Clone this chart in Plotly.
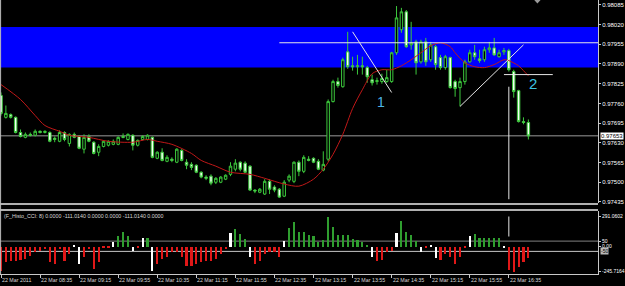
import plotly.graph_objects as go

# ---------------- data ----------------
bars = list(range(109))  # 5-minute bars, 22 Mar 2011 07:55 .. 16:55

open_pts = [97786, 97714, 97723, 97714, 97664, 97648, 97658, 97655, 97668, 97664,
            97664, 97645, 97635, 97664, 97628, 97658, 97651, 97609, 97651, 97632,
            97599, 97618, 97622, 97625, 97625, 97651, 97641, 97655, 97622, 97641,
            97641, 97648, 97579, 97599, 97569, 97576, 97566, 97605, 97566, 97559,
            97556, 97533, 97517, 97520, 97500, 97500, 97510, 97526, 97543, 97566,
            97563, 97553, 97474, 97467, 97461, 97503, 97484, 97477, 97454, 97507,
            97503, 97566, 97536, 97576, 97579, 97569, 97540, 97576, 97766, 97832,
            97815, 97930, 97884, 97881, 97884, 97878, 97838, 97832, 97832, 97832,
            97832, 97927, 98003, 98062, 97953, 97963, 97897, 97963, 97904, 97947,
            97911, 97878, 97911, 97832, 97812, 97832, 97897, 97927, 97907, 97904,
            97937, 97943, 97914, 97930, 97934, 97865, 97802, 97700, 97697]
high_pts = [97796, 97753, 97727, 97717, 97674, 97664, 97664, 97674, 97671, 97671,
            97668, 97651, 97671, 97668, 97661, 97664, 97655, 97658, 97658, 97635,
            97625, 97638, 97638, 97641, 97651, 97661, 97661, 97658, 97641, 97655,
            97658, 97651, 97602, 97612, 97589, 97582, 97612, 97609, 97576, 97566,
            97559, 97536, 97523, 97526, 97517, 97520, 97526, 97566, 97576, 97569,
            97569, 97556, 97477, 97481, 97510, 97510, 97490, 97481, 97507, 97526,
            97569, 97572, 97589, 97586, 97582, 97576, 97602, 97773, 97838, 97845,
            97911, 97996, 97914, 97920, 97914, 97884, 97855, 97845, 97858, 97871,
            97930, 98081, 98075, 98068, 98029, 97970, 97970, 97976, 97963, 97953,
            97920, 97920, 97914, 97838, 97845, 97904, 97937, 97953, 97937, 97947,
            97963, 97976, 97937, 97943, 97940, 97871, 97805, 97714, 97707]
low_pts = [97720, 97710, 97710, 97661, 97648, 97645, 97651, 97651, 97661, 97661,
           97632, 97632, 97632, 97635, 97618, 97645, 97609, 97595, 97632, 97592,
           97586, 97615, 97618, 97622, 97622, 97645, 97638, 97605, 97618, 97638,
           97638, 97579, 97576, 97569, 97566, 97566, 97563, 97569, 97543, 97540,
           97530, 97513, 97507, 97490, 97494, 97497, 97507, 97520, 97536, 97536,
           97530, 97471, 97464, 97464, 97458, 97461, 97467, 97448, 97451, 97500,
           97497, 97520, 97530, 97569, 97563, 97540, 97536, 97569, 97763, 97812,
           97812, 97874, 97868, 97855, 97855, 97828, 97819, 97822, 97825, 97828,
           97828, 97920, 97993, 97943, 97937, 97855, 97891, 97884, 97897, 97871,
           97871, 97871, 97809, 97782, 97750, 97822, 97894, 97904, 97894, 97897,
           97927, 97917, 97911, 97920, 97865, 97779, 97697, 97691, 97641]
close_pts = [97727, 97727, 97714, 97664, 97651, 97658, 97655, 97668, 97664, 97668,
             97635, 97641, 97664, 97641, 97658, 97648, 97612, 97648, 97635, 97595,
             97618, 97635, 97635, 97635, 97648, 97648, 97658, 97622, 97638, 97651,
             97655, 97582, 97599, 97572, 97582, 97572, 97609, 97572, 97556, 97549,
             97533, 97517, 97513, 97497, 97513, 97517, 97523, 97553, 97563, 97543,
             97533, 97474, 97471, 97477, 97503, 97477, 97474, 97451, 97500, 97520,
             97566, 97536, 97582, 97572, 97566, 97543, 97559, 97766, 97832, 97819,
             97904, 97881, 97881, 97884, 97881, 97848, 97828, 97835, 97842, 97845,
             97927, 98042, 98062, 97947, 97960, 97894, 97963, 97897, 97953, 97888,
             97878, 97914, 97812, 97809, 97832, 97897, 97927, 97914, 97901, 97937,
             97943, 97920, 97927, 97934, 97871, 97799, 97700, 97697, 97653]

# moving average (read at selected bars)
ma_bar = [0, 4, 7, 9, 12, 14, 18, 22, 27, 30, 32, 35, 39, 41, 44, 47, 51, 54, 58, 61,
          64, 66, 68, 70, 72, 74, 76, 78, 80, 82, 84, 86, 88, 90, 92, 93, 95, 97, 99,
          101, 103, 104, 106, 107, 108]
ma_pts = [97822, 97773, 97720, 97687, 97668, 97655, 97648, 97635, 97632, 97641, 97635,
          97625, 97595, 97572, 97553, 97533, 97526, 97513, 97494, 97487, 97510, 97543,
          97592, 97658, 97743, 97805, 97858, 97871, 97871, 97884, 97904, 97927, 97950,
          97960, 97947, 97927, 97894, 97881, 97878, 97888, 97904, 97901, 97884, 97868,
          97851]

# F_Histo_CCI(8) histogram
cci = [-234, -153, -137, -137, -127, -120, -94, -55, -39, -23,
       -153, -172, -23, -137, -72, 16, -169, -104, -23, -218,
       -146, -16, -10, 49, 107, 146, 101, -39, -5, 85,
       85, -234, -169, -120, -104, -55, -55, -104, -185, -185,
       -169, -153, -137, -137, -120, -72, -23, 133, 172, 124,
       75, -104, -169, -137, -72, -55, -49, -104, 52, 179,
       237, 140, 146, 114, 100, 42, 68, 291.0602, 189, 114,
       114, 114, 75, 68, 49, 16, -104, -137, -130, -55,
       -39, 133, 254, 146, 114, 59, -49, -16, 16, -114,
       -127, -72, -104, -169, -104, -7, 101, 124, 81, 81,
       81, 81, 81, -5, -224, -245.7164, -202, -146, -111.014]

price_ticks = [0.98085, 0.98020, 0.97955, 0.97890, 0.97825, 0.97760,
               0.97695, 0.97630, 0.97565, 0.97500, 0.97435]
time_tick_bars = [0, 8, 16, 24, 32, 40, 48, 56, 64, 72, 80, 88, 96, 104]
time_tick_text = ["22 Mar 2011", "22 Mar 08:35", "22 Mar 09:15", "22 Mar 09:55",
                  "22 Mar 10:35", "22 Mar 11:15", "22 Mar 11:55", "22 Mar 12:35",
                  "22 Mar 13:15", "22 Mar 13:55", "22 Mar 14:35", "22 Mar 15:15",
                  "22 Mar 15:55", "22 Mar 16:35"]
cci_ticks = [291.0602, 50, 0, -245.7164]
cci_tick_text = ["291.0602", "50", "0.00", "-245.7164"]
cci_levels = [50, -50]

zone_low, zone_high = 0.97878, 0.98012
bid = 0.97653
# drawn objects: (bar, price)
trend1 = [(72, 0.97996), (80, 0.97796)]
trend2 = [(94, 0.97750), (107, 0.97953)]
hline_a = (57, 0.97960)
hline_b = [(103, 0.97855), (113, 0.97855)]
vline_bar = 104
vline_main = (0.97444, 0.97815)
vline_cci = (95, 290)

# ---------------- build ----------------
W, H = 625, 286
def py(px):
    return 1 - px / H

opens = [v / 1e5 for v in open_pts]
highs = [v / 1e5 for v in high_pts]
lows = [v / 1e5 for v in low_pts]
closes = [v / 1e5 for v in close_pts]
ma = [v / 1e5 for v in ma_pts]

GREEN = "#3cc83c"
XR = [-0.204, 122.26]

cci_col = []
for i, v in enumerate(cci):
    if i > 0 and (v >= 0) != (cci[i - 1] >= 0):
        cci_col.append("#ffffff")
    elif v >= 0:
        cci_col.append("#2f9e2f")
    else:
        cci_col.append("#e01818")

fig = go.Figure()
fig.add_trace(go.Candlestick(
    x=bars, open=opens, high=highs, low=lows, close=closes,
    increasing=dict(line=dict(color=GREEN, width=1), fillcolor="#000000"),
    decreasing=dict(line=dict(color=GREEN, width=1), fillcolor="#f4fff4"),
    whiskerwidth=0, xaxis="x", yaxis="y", hoverinfo="skip"))
fig.add_trace(go.Scatter(x=ma_bar, y=ma, mode="lines",
                         line=dict(color="#c01818", width=1, shape="spline", smoothing=0.8),
                         xaxis="x", yaxis="y", hoverinfo="skip"))
fig.add_trace(go.Bar(x=bars, y=cci, width=0.44,
                     marker=dict(color=cci_col, line=dict(width=0)),
                     xaxis="x2", yaxis="y2", hoverinfo="skip"))

shapes = []
shapes.append(dict(type="rect", xref="paper", yref="y", x0=0, x1=1, y0=zone_low, y1=zone_high,
                   fillcolor="#0000ff", line=dict(width=0), layer="below"))
shapes.append(dict(type="line", xref="paper", yref="y", x0=0, x1=1, y0=bid, y1=bid,
                   line=dict(color="#9a9a9a", width=1), layer="below"))
LW = "#e6e6e6"
shapes.append(dict(type="line", xref="x", yref="y", x0=trend1[0][0], y0=trend1[0][1],
                   x1=trend1[1][0], y1=trend1[1][1], line=dict(color=LW, width=1)))
shapes.append(dict(type="line", xref="x", yref="y", x0=trend2[0][0], y0=trend2[0][1],
                   x1=trend2[1][0], y1=trend2[1][1], line=dict(color=LW, width=1)))
shapes.append(dict(type="line", xref="x", yref="y", x0=hline_a[0], y0=hline_a[1],
                   x1=XR[1], y1=hline_a[1], line=dict(color=LW, width=1)))
shapes.append(dict(type="line", xref="x", yref="y", x0=hline_b[0][0], y0=hline_b[0][1],
                   x1=hline_b[1][0], y1=hline_b[1][1], line=dict(color=LW, width=1)))
shapes.append(dict(type="line", xref="x", yref="y", x0=vline_bar, x1=vline_bar,
                   y0=vline_main[0], y1=vline_main[1], line=dict(color=LW, width=1)))
shapes.append(dict(type="line", xref="x2", yref="y2", x0=vline_bar, x1=vline_bar,
                   y0=vline_cci[0], y1=vline_cci[1], line=dict(color=LW, width=1)))
shapes.append(dict(type="line", xref="paper", yref="y2", x0=0, x1=1, y0=cci_levels[0], y1=cci_levels[0],
                   line=dict(color="#808080", width=1), layer="below"))
shapes.append(dict(type="line", xref="paper", yref="y2", x0=0, x1=1, y0=cci_levels[1], y1=cci_levels[1],
                   line=dict(color="#c8c8c8", width=1), layer="below"))
for ypx in (205.5, 211.5):
    shapes.append(dict(type="line", xref="paper", yref="paper", x0=0, x1=1, y0=py(ypx), y1=py(ypx),
                       line=dict(color="#b0b0b0", width=2)))
shapes.append(dict(type="line", xref="paper", yref="paper", x0=0.001, x1=0.001, y0=py(276), y1=1,
                   line=dict(color="#bdbdbd", width=1)))
shapes.append(dict(type="path", xref="x", yref="paper",
                   path="M 109.2,1 L 110.5,1 L 109.85,0.988 Z",
                   fillcolor="#9a9a9a", line=dict(width=0)))

ann = []
TF = "Liberation Sans, Arial, sans-serif"
for b, t in zip(time_tick_bars, time_tick_text):
    ann.append(dict(x=b, xref="x2", y=py(281.5), yref="paper", text=t, showarrow=False,
                    xanchor="left", yanchor="middle", xshift=-1,
                    font=dict(size=5.3, color="#d8d8d8", family=TF)))
ann.append(dict(x=0.004, xref="paper", y=py(218), yref="paper",
                text="(F_Histo_CCI: 8) 0.0000 -111.0140 0.0000 0.0000 -111.0140 0.0000",
                showarrow=False, xanchor="left", yanchor="middle",
                font=dict(size=5.3, color="#d8d8d8", family=TF)))
ann.append(dict(x=77.9, xref="x", y=0.97763, yref="y", text="1", showarrow=False,
                font=dict(size=14, color="#4cb4e6", family=TF)))
ann.append(dict(x=109.0, xref="x", y=0.97825, yref="y", text="2", showarrow=False,
                font=dict(size=15, color="#3ec4e0", family=TF)))
ann.append(dict(x=1.0, xref="paper", y=bid, yref="y", text="0.97653", showarrow=False,
                xanchor="left", yanchor="middle", xshift=2, bgcolor="#ffffff", borderpad=0,
                font=dict(size=6, color="#000000", family=TF)))
ann.append(dict(x=1.0, xref="paper", y=cci_levels[1], yref="y2", text="-50", showarrow=False,
                xanchor="left", yanchor="middle", xshift=2, bgcolor="#b8b8b8", borderpad=0,
                font=dict(size=5, color="#000000", family=TF)))

fig.update_layout(
    width=W, height=H, margin=dict(l=0, r=24, t=0, b=0),
    paper_bgcolor="#000000", plot_bgcolor="#000000", showlegend=False,
    boxgap=0.28, bargap=0,
    xaxis=dict(domain=[0, 1], range=XR, anchor="y", visible=False,
               rangeslider=dict(visible=False), fixedrange=True),
    yaxis=dict(domain=[py(204.5), 1], range=[0.974313, 0.98101], side="right",
               tickvals=price_ticks, ticktext=["%.5f" % v for v in price_ticks],
               tickfont=dict(size=6, color="#ffffff", family=TF), ticks="outside",
               ticklen=2, tickcolor="#c8c8c8", showline=True, linecolor="#c8c8c8",
               linewidth=1, showgrid=False, zeroline=False),
    xaxis2=dict(domain=[0, 1], range=XR, anchor="y2", tickvals=time_tick_bars,
                showticklabels=False, ticks="outside", ticklen=3, tickcolor="#c8c8c8",
                showline=True, linecolor="#c8c8c8", linewidth=1, showgrid=False,
                zeroline=False),
    yaxis2=dict(domain=[py(275.5), py(212)], range=[-266.4, 348.4], side="right",
                tickvals=cci_ticks, ticktext=cci_tick_text,
                tickfont=dict(size=5, color="#ffffff", family=TF), ticks="outside",
                ticklen=2, tickcolor="#c8c8c8", showline=True, linecolor="#c8c8c8",
                linewidth=1, showgrid=False, zeroline=False),
    shapes=shapes, annotations=ann,
)

fig.write_html("out.html")
